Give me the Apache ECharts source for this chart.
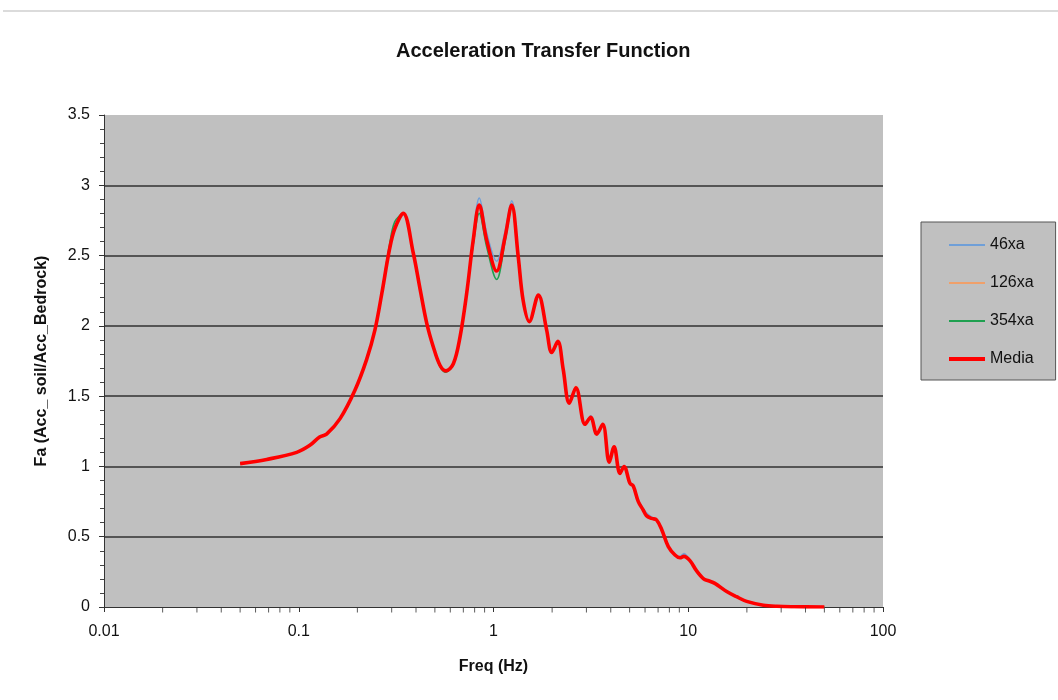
<!DOCTYPE html>
<html>
<head>
<meta charset="utf-8">
<script src="https://cdn.jsdelivr.net/npm/echarts@6/dist/echarts.min.js"></script>
<style>
html,body{margin:0;padding:0;background:#fff;}
#chart{width:1058px;height:700px;}
</style>
</head>
<body>
<div id="chart"></div>
<script>
// ---- data ----
const freq = [0.05, 0.0685, 0.0976, 0.114, 0.128, 0.139, 0.163, 0.194, 0.223, 0.246, 0.267, 0.292, 0.311, 0.344,
  0.387, 0.420, 0.454, 0.491, 0.531, 0.570, 0.622, 0.673, 0.728, 0.787, 0.845, 0.923, 1.038, 1.146, 1.24,
  1.34, 1.42, 1.527, 1.70, 1.875, 1.99, 2.14, 2.28, 2.45, 2.65, 2.95, 3.155, 3.39, 3.64, 3.93, 4.16, 4.46,
  4.68, 5.02, 5.22, 5.54, 5.87, 6.1, 6.49, 6.87, 7.31, 7.90, 8.55, 9.07, 9.5, 10.2, 11.0, 12.0, 12.7, 13.7,
  15.75, 17.7, 19.95, 24.3, 28.5, 35, 50];

const media = [1.02, 1.05, 1.10, 1.15, 1.21, 1.23, 1.34, 1.54, 1.76, 1.97, 2.23, 2.54, 2.69, 2.80,
  2.52, 2.26, 2.02, 1.85, 1.72, 1.68, 1.73, 1.92, 2.23, 2.61, 2.86, 2.61, 2.39, 2.63, 2.86,
  2.49, 2.18, 2.03, 2.22, 1.97, 1.81, 1.89, 1.69, 1.45, 1.56, 1.30, 1.35, 1.23, 1.30, 1.03, 1.14, 0.95,
  1.00, 0.88, 0.86, 0.75, 0.69, 0.65, 0.63, 0.62, 0.55, 0.43, 0.37, 0.35, 0.36, 0.33, 0.26, 0.20, 0.187, 0.168,
  0.11, 0.073, 0.04, 0.013, 0.005, 0.002, 0.0];

const s46xa = [1.02, 1.05, 1.10, 1.15, 1.21, 1.23, 1.34, 1.54, 1.76, 1.97, 2.23, 2.54, 2.69, 2.79,
  2.52, 2.26, 2.02, 1.85, 1.72, 1.68, 1.73, 1.92, 2.23, 2.63, 2.91, 2.66, 2.46, 2.67, 2.89,
  2.50, 2.18, 2.03, 2.22, 1.97, 1.81, 1.89, 1.69, 1.45, 1.56, 1.30, 1.36, 1.23, 1.30, 1.03, 1.14, 0.95,
  1.00, 0.88, 0.86, 0.76, 0.70, 0.67, 0.64, 0.62, 0.55, 0.43, 0.37, 0.36, 0.38, 0.33, 0.26, 0.20, 0.187, 0.168,
  0.11, 0.073, 0.04, 0.013, 0.005, 0.002, 0.0];

const s126xa = [1.02, 1.05, 1.10, 1.15, 1.21, 1.23, 1.34, 1.54, 1.76, 1.97, 2.23, 2.54, 2.70, 2.80,
  2.52, 2.26, 2.02, 1.85, 1.72, 1.68, 1.73, 1.92, 2.23, 2.61, 2.85, 2.60, 2.39, 2.63, 2.86,
  2.49, 2.18, 2.03, 2.22, 1.97, 1.81, 1.89, 1.69, 1.45, 1.57, 1.30, 1.35, 1.23, 1.30, 1.03, 1.14, 0.95,
  1.00, 0.88, 0.86, 0.75, 0.69, 0.65, 0.63, 0.62, 0.55, 0.43, 0.37, 0.35, 0.36, 0.33, 0.26, 0.20, 0.187, 0.168,
  0.11, 0.073, 0.04, 0.013, 0.005, 0.002, 0.0];

const s354xa = [1.02, 1.05, 1.10, 1.15, 1.21, 1.23, 1.34, 1.54, 1.76, 1.97, 2.24, 2.57, 2.74, 2.80,
  2.52, 2.26, 2.02, 1.85, 1.71, 1.67, 1.73, 1.92, 2.23, 2.58, 2.80, 2.56, 2.33, 2.60, 2.84,
  2.48, 2.18, 2.03, 2.22, 1.97, 1.81, 1.89, 1.69, 1.45, 1.56, 1.30, 1.35, 1.23, 1.30, 1.03, 1.14, 0.95,
  1.00, 0.88, 0.86, 0.75, 0.69, 0.65, 0.63, 0.62, 0.55, 0.43, 0.37, 0.35, 0.36, 0.33, 0.26, 0.20, 0.187, 0.168,
  0.11, 0.073, 0.04, 0.013, 0.005, 0.002, 0.0];

const seriesNames = ['46xa', '126xa', '354xa', 'Media'];
const seriesColors = ['#6f9fd8', '#f0a06a', '#1fa050', '#ff0000'];
const xMinorTicks = [0.02,0.03,0.04,0.05,0.06,0.07,0.08,0.09, 0.2,0.3,0.4,0.5,0.6,0.7,0.8,0.9,
  2,3,4,5,6,7,8,9, 20,30,40,50,60,70,80,90];

const FONT = 'Arial, "Liberation Sans", Helvetica, sans-serif';
const zip = (vals) => freq.map((f, i) => [f, vals[i]]);
const allVals = [s46xa, s126xa, s354xa, media];

const chart = echarts.init(document.getElementById('chart'), null, {renderer: 'canvas'});
const lineSeries = seriesNames.map((name, k) => ({
  name: name,
  type: 'line',
  data: zip(allVals[k]),
  showSymbol: false,
  symbol: 'none',
  smooth: 0.35,
  z: k === 3 ? 5 : 3,
  lineStyle: {color: seriesColors[k], width: k === 3 ? 3.6 : 1.6},
  itemStyle: {color: seriesColors[k]},
  silent: true
}));

chart.setOption({
  animation: false,
  backgroundColor: '#ffffff',
  title: {
    text: 'Acceleration Transfer Function',
    left: 391, top: 36,
    textStyle: {fontFamily: FONT, fontSize: 20, fontWeight: 'bold', color: '#111'}
  },
  grid: {
    left: 104, right: 175, top: 115, bottom: 93,
    show: true, backgroundColor: '#c0c0c0', borderWidth: 0
  },
  legend: {
    data: seriesNames.map((n, k) => ({
      name: n,
      lineStyle: {width: k === 3 ? 4 : 2, color: seriesColors[k]}
    })),
    orient: 'vertical',
    left: 921, top: 222,
    backgroundColor: '#c0c0c0',
    borderColor: '#555', borderWidth: 1,
    padding: [15, 22, 13, 26],
    itemGap: 22,
    itemWidth: 36, itemHeight: 14,
    itemStyle: {opacity: 0},
    textStyle: {fontFamily: FONT, fontSize: 16, color: '#111'}
  },
  xAxis: {
    type: 'log', logBase: 10, min: 0.01, max: 100,
    name: 'Freq (Hz)', nameLocation: 'middle', nameGap: 52,
    nameTextStyle: {fontFamily: FONT, fontSize: 16, fontWeight: 'bold', color: '#111'},
    axisLine: {show: true, lineStyle: {color: '#333', width: 1}},
    axisTick: {show: true, length: 5, lineStyle: {color: '#333'}},
    axisLabel: {fontFamily: FONT, fontSize: 16, color: '#111', margin: 17,
      formatter: v => String(+(+v).toPrecision(6))},
    splitLine: {show: false}
  },
  yAxis: {
    type: 'value', min: 0, max: 3.5, interval: 0.5,
    name: 'Fa (Acc_ soil/Acc_Bedrock)', nameLocation: 'middle', nameGap: 54,
    nameTextStyle: {fontFamily: FONT, fontSize: 16, fontWeight: 'bold', color: '#111'},
    axisLine: {show: true, lineStyle: {color: '#333', width: 1}},
    axisTick: {show: true, length: 5, lineStyle: {color: '#333'}},
    minorTick: {show: true, splitNumber: 5, length: 4, lineStyle: {color: '#444'}},
    axisLabel: {fontFamily: FONT, fontSize: 16, color: '#111', margin: 14},
    splitLine: {show: true, showMinLine: false, showMaxLine: false, lineStyle: {color: '#555', width: 2}}
  },
  graphic: [{
    type: 'line', shape: {x1: 3, y1: 11, x2: 1058, y2: 11},
    style: {stroke: '#cfcfcf', lineWidth: 1.5}, silent: true
  }],
  series: [
    {
      name: 'xMinorTicks', type: 'scatter',
      data: xMinorTicks.map(f => [f, 0]),
      symbol: 'rect', symbolSize: [1, 5], symbolOffset: [0, 3],
      itemStyle: {color: '#333'}, clip: false, silent: true, z: 10
    }
  ].concat(lineSeries)
});
</script>
</body>
</html>
